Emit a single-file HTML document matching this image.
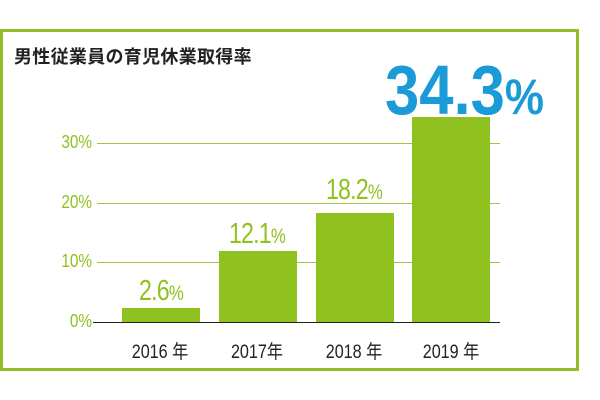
<!DOCTYPE html><html><head><style>
body{margin:0;width:600px;height:400px;background:#fff;position:relative;overflow:hidden;font-family:"Liberation Sans","Noto Sans CJK JP",sans-serif}
.a{position:absolute}
.frame{left:0;top:29px;width:573px;height:336px;border:3px solid #8fbf2b}
.t{left:14px;top:43px;font-size:18px;font-weight:bold;color:#222;white-space:nowrap;letter-spacing:.3px}
.g{left:97px;width:403px;height:1px;background:#9cc646}
.yl{width:60px;left:32px;text-align:right;color:#8fc21f;font-size:18px;transform:scaleX(.85);transform-origin:right}
.bar{background:#8fc21f;width:78px}
.v{color:#8fc21f;font-size:29px;width:120px;text-align:center;transform:scaleX(.8);letter-spacing:-1px}
.v small{font-size:21px}
.x{color:#222;font-size:19px;width:120px;text-align:center;transform:scaleX(.85)}
</style></head><body>
<div class="a frame"></div>
<div class="a t">男性従業員の育児休業取得率</div>
<div class="a g" style="top:143px"></div>
<div class="a g" style="top:203px"></div>
<div class="a g" style="top:262px"></div>
<div class="a" style="left:93px;top:322px;width:407px;height:1px;background:#222"></div>
<div class="a yl" style="top:132px">30%</div>
<div class="a yl" style="top:192px">20%</div>
<div class="a yl" style="top:251px">10%</div>
<div class="a yl" style="top:311px">0%</div>
<div class="a bar" style="left:122px;top:308px;height:14px"></div>
<div class="a bar" style="left:219px;top:251px;height:71px"></div>
<div class="a bar" style="left:316px;top:213px;height:109px"></div>
<div class="a bar" style="left:412px;top:117px;height:205px"></div>
<div class="a v" style="left:101px;top:275px">2.6<small>%</small></div>
<div class="a v" style="left:197px;top:218px">12.1<small>%</small></div>
<div class="a v" style="left:294px;top:174px">18.2<small>%</small></div>
<div class="a" style="left:385px;top:50px;color:#1a9ad6;font-size:70px;font-weight:bold;transform:scaleX(.88);transform-origin:left;letter-spacing:0px;white-space:nowrap">34.3<span style="font-size:50px">%</span></div>
<div class="a x" style="left:100px;top:337px">2016 年</div>
<div class="a x" style="left:197px;top:337px">2017年</div>
<div class="a x" style="left:294px;top:337px">2018 年</div>
<div class="a x" style="left:391px;top:337px">2019 年</div>
</body></html>
